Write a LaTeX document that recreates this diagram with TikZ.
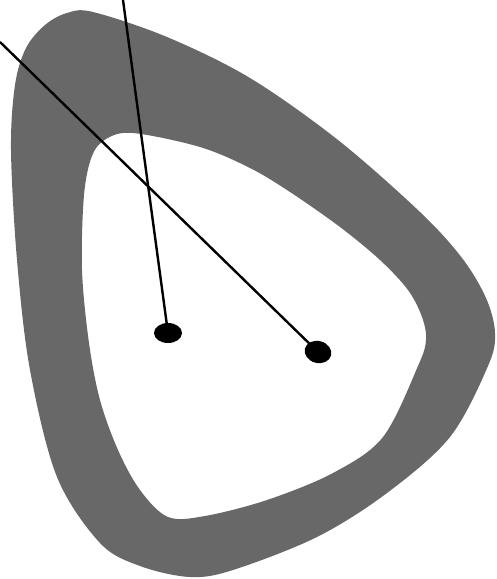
\documentclass[tikz,border=0pt]{standalone}
\usepackage{tikz}
\usetikzlibrary{shapes.geometric}
\definecolor{ringgray}{RGB}{104,104,104}

\begin{document}
\begin{tikzpicture}[x=1pt,y=-1pt,line join=round,
  wire/.style={draw=black,line width=2.4pt},
  pinhead/.style={ellipse,fill=black,inner sep=0pt,minimum width=28pt,minimum height=20pt}]
\useasboundingbox (0,0) rectangle (497,579);
% ring
\fill[ringgray,even odd rule]
  plot[smooth cycle,tension=0.55] coordinates {(93,12) (167,37) (250,78) (338,140) (420,212) (462,258) (486,298) (495,333) (488,366) (450,437) (387,493) (317,537) (233,570) (190,577) (140,566) (100,543) (57,477) (30,370) (17,260) (11,150) (15,85) (26,48) (45,25) (67,13)}
  plot[smooth cycle,tension=0.55] coordinates {(133,133) (200,147) (250,168) (290,192) (340,227) (380,260) (408,290) (422,317) (426,340) (418,366) (383,437) (333,473) (267,500) (205,516) (168,517) (140,490) (118,450) (100,400) (89,343) (82,270) (84,195) (92,156) (106,139)};
% pins
\node[pinhead] (p1) at (168,333) {};
\node[pinhead,rotate=-15,minimum width=27pt,minimum height=22pt] (p2) at (318,352) {};
\coordinate (t1) at (123,0);
\coordinate (t2) at (0,42);
\draw[wire] (t1) -- (p1.center);
\draw[wire] (t2) -- (p2.center);
\end{tikzpicture}
\end{document}
